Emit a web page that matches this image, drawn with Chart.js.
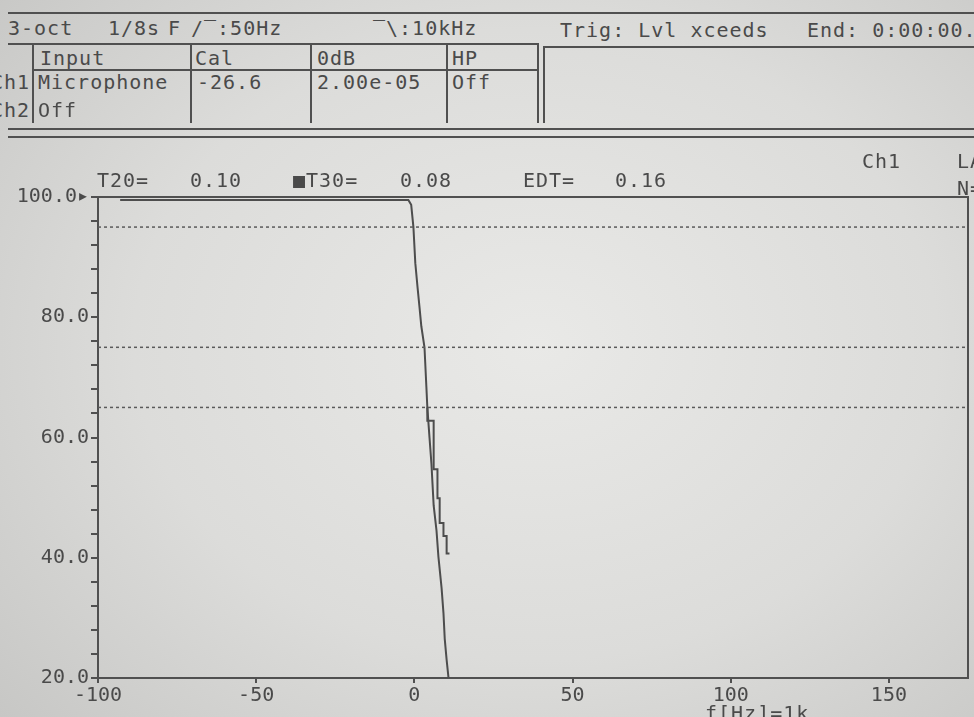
<!DOCTYPE html>
<html>
<head>
<meta charset="utf-8">
<script src="https://cdn.jsdelivr.net/npm/chart.js@4/dist/chart.umd.min.js"></script>
<style>
  html, body { margin: 0; padding: 0; }
  body {
    width: 974px; height: 717px; overflow: hidden; position: relative;
    background: radial-gradient(ellipse 75% 80% at 55% 48%, #e9e9e7 0%, #dcdcda 55%, #c6c6c4 100%);
    font-family: "DejaVu Sans Mono", monospace;
  }
  .t { position: absolute; font-size: 20px; line-height: 20px; letter-spacing: 1px; color: #4a4a4a; white-space: pre; z-index: 2; }
  .h { position: absolute; height: 2px; background: #505050; }
  .v { position: absolute; width: 2px; background: #505050; }
  #wrap { position: absolute; left: 0; top: 140px; width: 974px; height: 577px; z-index: 1; }
</style>
</head>
<body>
<!-- status header -->
<div class="h" style="left:8px;top:12px;width:966px"></div>
<div class="t" style="left:8px;top:18px">3-oct</div>
<div class="t" style="left:108px;top:18px">1/8s</div>
<div class="t" style="left:168px;top:18px">F</div>
<div class="t" style="left:191px;top:18px">/‾:50Hz</div>
<div class="t" style="left:373px;top:18px">‾\:10kHz</div>
<div class="t" style="left:560px;top:20px">Trig: Lvl xceeds</div>
<div class="t" style="left:807px;top:20px">End: 0:00:00.0</div>

<!-- input table -->
<div class="h" style="left:8px;top:43px;width:531px"></div>
<div class="h" style="left:543px;top:46px;width:431px"></div>
<div class="h" style="left:32px;top:69px;width:507px"></div>
<div class="v" style="left:32px;top:43px;height:80px"></div>
<div class="v" style="left:190px;top:43px;height:80px"></div>
<div class="v" style="left:310px;top:43px;height:80px"></div>
<div class="v" style="left:446px;top:43px;height:80px"></div>
<div class="v" style="left:537px;top:43px;height:80px"></div>
<div class="v" style="left:543px;top:46px;height:77px"></div>
<div class="t" style="left:40px;top:48px">Input</div>
<div class="t" style="left:195px;top:48px">Cal</div>
<div class="t" style="left:317px;top:48px">0dB</div>
<div class="t" style="left:452px;top:48px">HP</div>
<div class="t" style="left:-9px;top:72px">Ch1</div>
<div class="t" style="left:38px;top:72px">Microphone</div>
<div class="t" style="left:197px;top:72px">-26.6</div>
<div class="t" style="left:317px;top:72px">2.00e-05</div>
<div class="t" style="left:452px;top:72px">Off</div>
<div class="t" style="left:-9px;top:100px">Ch2</div>
<div class="t" style="left:38px;top:100px">Off</div>
<div class="h" style="left:8px;top:128px;width:966px"></div>
<div class="h" style="left:8px;top:136px;width:966px"></div>

<!-- decay results -->
<div class="t" style="left:97px;top:170px">T20=</div>
<div class="t" style="left:190px;top:170px">0.10</div>
<div class="t" style="left:293px;top:170px">■T30=</div>
<div class="t" style="left:400px;top:170px">0.08</div>
<div class="t" style="left:523px;top:170px">EDT=</div>
<div class="t" style="left:615px;top:170px">0.16</div>
<div class="t" style="left:862px;top:151px">Ch1</div>
<div class="t" style="left:957px;top:151px">LA</div>
<div class="t" style="left:957px;top:178px">N=</div>
<div class="t" style="left:705px;top:703px">f[Hz]=1k</div>

<div id="wrap"><canvas id="c"></canvas></div>

<script>
// Axis range and tick labels
const xMin = -100, xMax = 175;
const xTickValues = [-100, -50, 0, 50, 100, 150];
const yMin = 20, yMax = 100;
const yLabelValues = [20, 40, 60, 80, 100];

// Evaluation levels (dotted lines)
const guideLevels = [95, 75, 65];

// Decay curve
const decayX = [-93, -1.9, -1.0, -0.3, 0.3, 1.0, 1.6, 2.2, 3.2, 3.8, 4.1, 4.8, 5.4, 6.1, 7.0, 7.6, 8.6, 9.2, 9.6, 10.2, 10.8];
const decayY = [99.5, 99.5, 98.7, 95, 89, 85, 81.8, 78.5, 75, 68.4, 65, 59.9, 55.6, 48.7, 44.5, 40.2, 35.0, 30.8, 26.5, 23.0, 20];

// Stepped trace (drops first, then moves right)
const stairX = [4.1, 6.1, 7.3, 8.0, 9.2, 10.2, 11.1];
const stairY = [65, 62.8, 54.7, 49.9, 45.8, 43.6, 40.7];

const ink = '#4d4d4d';
const zip = (xs, ys) => xs.map((x, i) => ({ x, y: ys[i] }));

const frame = {
  id: 'frame',
  beforeDatasetsDraw(chart) {
    const { ctx, chartArea: a } = chart;
    ctx.save();
    ctx.strokeStyle = '#505050';
    ctx.lineWidth = 2;
    ctx.strokeRect(a.left, a.top, a.right - a.left, a.bottom - a.top);
    ctx.restore();
  }
};

Chart.defaults.font.family = '"DejaVu Sans Mono", monospace';
Chart.defaults.font.size = 20;
Chart.defaults.color = '#4a4a4a';

new Chart(document.getElementById('c'), {
  type: 'line',
  data: {
    datasets: [
      ...guideLevels.map(lv => ({
        data: [{ x: xMin, y: lv }, { x: xMax, y: lv }],
        borderColor: '#5a5a5a', borderWidth: 1.5, borderDash: [3, 3],
        pointRadius: 0
      })),
      {
        data: zip(decayX, decayY),
        borderColor: ink, borderWidth: 2, pointRadius: 0, tension: 0
      },
      {
        data: zip(stairX, stairY),
        borderColor: ink, borderWidth: 2, pointRadius: 0, stepped: 'after'
      }
    ]
  },
  options: {
    responsive: true,
    maintainAspectRatio: false,
    animation: false,
    layout: { padding: { top: 57, right: 6, left: 0, bottom: 0 } },
    plugins: { legend: { display: false }, tooltip: { enabled: false }, title: { display: false } },
    scales: {
      x: {
        type: 'linear', min: xMin, max: xMax,
        afterBuildTicks: s => { s.ticks = xTickValues.map(v => ({ value: v })); },
        afterFit: s => { s.height = 39; },
        grid: { drawOnChartArea: false, drawTicks: true, tickLength: 5, color: '#505050', lineWidth: 2 },
        border: { display: true, color: '#505050', width: 2 },
        ticks: { padding: 1, maxRotation: 0, color: '#4a4a4a', callback: v => String(v) }
      },
      y: {
        type: 'linear', min: yMin, max: yMax,
        ticks: {
          stepSize: 4, padding: 2, color: '#4a4a4a', autoSkip: false,
          callback: v => yLabelValues.includes(v) ? v.toFixed(1) + (v === yMax ? '▸' : '') : ''
        },
        afterFit: s => { s.width = 98; },
        grid: { drawOnChartArea: false, drawTicks: true, tickLength: 7, color: '#505050', lineWidth: 2 },
        border: { display: true, color: '#505050', width: 2 }
      }
    }
  },
  plugins: [frame]
});
</script>
</body>
</html>
